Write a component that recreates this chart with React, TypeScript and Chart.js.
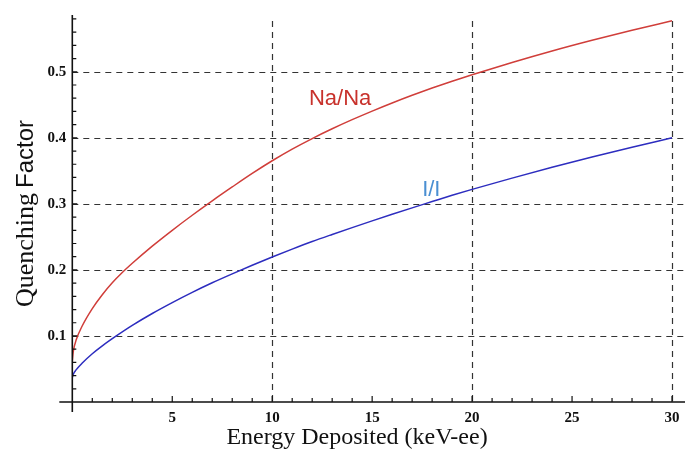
import React, { useEffect, useRef } from "react";
import { Chart, registerables } from "chart.js";

Chart.register(...registerables);

// Na/Na quenching factor curve
const energyNa = [0, 0.05, 0.2, 0.5, 1, 1.5, 2, 2.5, 3, 4, 5, 6, 7, 8, 9, 10, 11, 12, 13, 14, 15, 16, 17, 18, 19, 20, 22, 24, 26, 28, 30];
const qfNa = [0.0615, 0.0765, 0.0945, 0.1155, 0.1415, 0.1625, 0.1805, 0.196, 0.21, 0.236, 0.26, 0.2828, 0.3046, 0.3256, 0.3461, 0.3653, 0.3829, 0.3989, 0.4137, 0.4275, 0.4405, 0.4528, 0.4644, 0.4754, 0.4858, 0.4956, 0.5142, 0.5316, 0.5478, 0.563, 0.5772];

// I/I quenching factor curve
const energyI = [0, 0.05, 0.2, 0.5, 1, 1.5, 2.2, 3, 4, 5, 6, 7, 8, 9, 10, 11, 12, 13, 14, 15, 16, 17, 18, 19, 20, 22, 24, 26, 28, 30];
const qfI = [0.037, 0.042, 0.049, 0.059, 0.073, 0.085, 0.1, 0.116, 0.134, 0.1505, 0.166, 0.1805, 0.194, 0.207, 0.2195, 0.2315, 0.243, 0.2537, 0.2641, 0.2743, 0.2843, 0.294, 0.3035, 0.313, 0.322, 0.339, 0.3555, 0.371, 0.3858, 0.4];

const xTicks = [5, 10, 15, 20, 25, 30];
const yTicks = [0.1, 0.2, 0.3, 0.4, 0.5];
const xGrid = [10, 20, 30];
const yGrid = [0.1, 0.2, 0.3, 0.4, 0.5];

const X_MAX = 30.65;
const Y_MAX = 0.586;

const RED = "#d03e3a";
const BLUE = "#2d2dbf";

const decorPlugin = {
  id: "decor",
  beforeDatasetsDraw(chart: any) {
    const { ctx, chartArea, scales } = chart;
    const xs = scales.x;
    const ys = scales.y;
    ctx.save();
    ctx.strokeStyle = "#333";
    ctx.lineWidth = 1.2;
    ctx.setLineDash([6, 5]);
    for (const v of yGrid) {
      const y = Math.round(ys.getPixelForValue(v)) + 0.5;
      ctx.beginPath();
      ctx.moveTo(xs.getPixelForValue(0), y);
      ctx.lineTo(chartArea.right, y);
      ctx.stroke();
    }
    for (const v of xGrid) {
      const x = Math.round(xs.getPixelForValue(v)) + 0.5;
      ctx.beginPath();
      ctx.moveTo(x, chartArea.top + 6);
      ctx.lineTo(x, ys.getPixelForValue(0));
      ctx.stroke();
    }
    ctx.restore();
  },
  afterDraw(chart: any) {
    const { ctx, chartArea, scales } = chart;
    const xs = scales.x;
    const ys = scales.y;
    const x0 = xs.getPixelForValue(0);
    const y0 = ys.getPixelForValue(0);
    ctx.save();
    ctx.setLineDash([]);
    ctx.strokeStyle = "#111";
    ctx.lineWidth = 1.6;
    // axes
    ctx.beginPath();
    ctx.moveTo(x0, chartArea.top);
    ctx.lineTo(x0, y0 + 10);
    ctx.moveTo(x0 - 13, y0);
    ctx.lineTo(chartArea.right, y0);
    ctx.stroke();
    // minor ticks
    ctx.lineWidth = 1.2;
    ctx.beginPath();
    for (let i = 1; i <= 29; i++) {
      const v = i * 0.02;
      if (v > Y_MAX) break;
      const y = ys.getPixelForValue(v);
      const len = i % 5 === 0 ? 5 : 4;
      ctx.moveTo(x0, y);
      ctx.lineTo(x0 + len, y);
    }
    for (let i = 1; i <= 30; i++) {
      const x = xs.getPixelForValue(i);
      const len = i % 5 === 0 ? 6 : 4;
      ctx.moveTo(x, y0);
      ctx.lineTo(x, y0 - len);
    }
    ctx.stroke();

    // axis titles
    ctx.fillStyle = "#111";
    ctx.textBaseline = "alphabetic";
    ctx.textAlign = "center";
    ctx.font = '24px "Liberation Serif"';
    ctx.fillText("Energy Deposited (keV-ee)", 357, 444);

    ctx.save();
    ctx.translate(33, 307);
    ctx.rotate(-Math.PI / 2);
    ctx.textAlign = "left";
    ctx.font = '26px "Liberation Serif"';
    ctx.fillText("Quenching", 0, 0);
    const w = ctx.measureText("Quenching").width;
    ctx.font = '24px "Liberation Sans"';
    ctx.fillText("Factor", w + 5, 0);
    ctx.restore();

    // curve labels
    ctx.textAlign = "left";
    ctx.font = '22px "Liberation Sans"';
    ctx.fillStyle = "#c8322c";
    ctx.fillText("Na/Na", xs.getPixelForValue(11.84), ys.getPixelForValue(0.449));
    ctx.fillStyle = "#4a8fd2";
    ctx.fillText("I/I", xs.getPixelForValue(17.5), ys.getPixelForValue(0.312));
    ctx.restore();
  },
};

export default function App() {
  const ref = useRef<HTMLCanvasElement>(null);
  useEffect(() => {
    if (!ref.current) return;
    const chart = new Chart(ref.current, {
      type: "scatter",
      data: {
        datasets: [
          {
            label: "Na/Na",
            data: energyNa.map((x, i) => ({ x, y: qfNa[i] })),
            showLine: true,
            borderColor: RED,
            borderWidth: 1.5,
            pointRadius: 0,
            cubicInterpolationMode: "monotone",
          },
          {
            label: "I/I",
            data: energyI.map((x, i) => ({ x, y: qfI[i] })),
            showLine: true,
            borderColor: BLUE,
            borderWidth: 1.5,
            pointRadius: 0,
            cubicInterpolationMode: "monotone",
          },
        ],
      },
      options: {
        responsive: false,
        animation: false,
        layout: { padding: { left: 0, right: 9, top: 12, bottom: 0 } },
        plugins: { legend: { display: false }, tooltip: { enabled: false } },
        scales: {
          x: {
            type: "linear",
            min: 0,
            max: X_MAX,
            grid: { display: false, drawTicks: false },
            border: { display: false },
            afterBuildTicks: (s: any) => {
              s.ticks = xTicks.map((v) => ({ value: v }));
            },
            afterFit: (s: any) => {
              s.height = 65;
            },
            ticks: {
              padding: 7,
              color: "#111",
              font: { family: "Liberation Serif", size: 15, weight: "bold" },
              callback: (v: any) => String(v),
            },
          },
          y: {
            type: "linear",
            min: 0,
            max: Y_MAX,
            grid: { display: false, drawTicks: false },
            border: { display: false },
            afterBuildTicks: (s: any) => {
              s.ticks = yTicks.map((v) => ({ value: v }));
            },
            afterFit: (s: any) => {
              s.width = 72.3;
            },
            ticks: {
              padding: 6,
              color: "#111",
              font: { family: "Liberation Serif", size: 15, weight: "bold" },
              callback: (v: any) => Number(v).toFixed(1),
            },
          },
        },
      },
      plugins: [decorPlugin],
    });
    return () => chart.destroy();
  }, []);
  return (
    <div style={{ position: "fixed", left: 0, top: 0, width: 694, height: 467, background: "#fff" }}>
      <canvas ref={ref} width={694} height={467} />
    </div>
  );
}
